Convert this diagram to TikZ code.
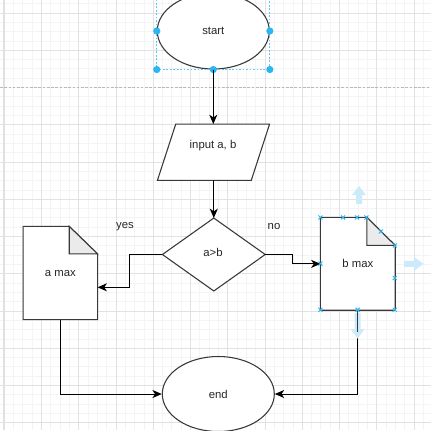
\documentclass[tikz,border=0pt]{standalone}
\usepackage{fontspec}
\setmainfont{Liberation Sans}
\usetikzlibrary{shapes.geometric,arrows.meta,calc}
\definecolor{selblue}{RGB}{41,182,242}
\definecolor{hoverblue}{RGB}{205,234,251}
\definecolor{gridminor}{RGB}{244,244,244}
\definecolor{gridmajor}{RGB}{226,226,226}
\definecolor{foldgray}{RGB}{235,235,235}
\begin{document}
\begin{tikzpicture}[x=0.75pt,y=-0.75pt,
  outline/.style={draw=black!78,line width=0.8pt,fill=white},
  conn/.style={draw=black,line width=0.75pt,-{Stealth[length=7pt,width=6pt,inset=2pt]}},
  lbl/.style={font=\fontsize{8.5pt}{10pt}\selectfont,text=black!85,inner sep=0pt},
  hover/.style={fill=hoverblue,draw=none},
  seldot/.style={fill=selblue,draw=none},
  selx/.style={draw=selblue,line width=0.7pt}]
\useasboundingbox (0,0) rectangle (431,430);
\begin{scope}
\clip (0,0) rectangle (431,430);
\fill[white] (0,0) rectangle (431,430);
% grid
\foreach \i in {-5,...,42}
  \draw[gridminor,line width=0.6pt] ({41.5+\i*9.3125},0) -- ({41.5+\i*9.3125},430);
\foreach \j in {-2,...,46}
  \draw[gridminor,line width=0.6pt] (0,{13+\j*9.3125}) -- (431,{13+\j*9.3125});
\foreach \i in {-1,...,10}
  \draw[gridmajor,line width=0.7pt] ({41.5+\i*37.25},0) -- ({41.5+\i*37.25},430);
\foreach \j in {0,1,3,4,5,6,7,8,9,10,11}
  \draw[gridmajor,line width=0.7pt] (0,{13+\j*37.25}) -- (431,{13+\j*37.25});
\draw[gray!55,line width=0.6pt,dash pattern=on 2pt off 1.2pt] (0,87.5) -- (431,87.5);
\draw[gray!25,line width=1.4pt] (3.5,0) -- (3.5,430);

% start
\node[ellipse,outline,inner sep=0pt,minimum width=84pt,minimum height=57pt,lbl] (start) at (213.3,31) {start};
\draw[selblue!75,line width=0.7pt,dash pattern=on 1.3pt off 1.3pt] (start.west |- start.north) rectangle (start.east |- start.south);
\foreach \p in {start.west,start.east,start.west |- start.south,start.south,start.east |- start.south}
  \fill[seldot] (\p) circle (3.6);

% input
\node[inner sep=0pt,minimum width=83.7pt,minimum height=41.8pt] (inp) at (213.5,152.2) {};
\draw[outline] ($(inp.north west)+(18.3,0)$) -- (inp.north east) -- ($(inp.south east)+(-18.3,0)$) -- (inp.south west) -- cycle;
\node[lbl] (inptext) at (213,145.7) {input a, b};

% decision
\node[inner sep=0pt,minimum width=76.7pt,minimum height=54.3pt] (dec) at (213.8,254.5) {};
\draw[outline] (dec.north) -- (dec.east) -- (dec.south) -- (dec.west) -- cycle;
\node[lbl] (dectext) at (213,252.7) {a>b};

% a max
\node[inner sep=0pt,minimum width=55.5pt,minimum height=69.5pt] (amax) at (60.3,273) {};
\draw[outline] (amax.north west) -- ($(amax.north east)+(-28.3,0)$) -- ($(amax.north east)+(0,27.5)$) -- (amax.south east) -- (amax.south west) -- cycle;
\draw[outline,fill=foldgray] ($(amax.north east)+(-28.3,0)$) -- ($(amax.north east)+(0,27.5)$) -- ($(amax.north east)+(-28.3,27.5)$) -- cycle;
\node[lbl] (amaxtext) at (amax.center) {a max};

% b max
\node[inner sep=0pt,minimum width=55.7pt,minimum height=69.2pt] (bmax) at (357.85,263.85) {};
\draw[outline] (bmax.north west) -- ($(bmax.north east)+(-28.3,0)$) -- ($(bmax.north east)+(0,28)$) -- (bmax.south east) -- (bmax.south west) -- cycle;
\draw[outline,fill=foldgray] ($(bmax.north east)+(-28.3,0)$) -- ($(bmax.north east)+(0,28)$) -- ($(bmax.north east)+(-28.3,28)$) -- cycle;
\node[lbl] (bmaxtext) at (bmax.center) {b max};

% end
\node[ellipse,outline,inner sep=0pt,minimum width=84pt,minimum height=56.25pt,lbl] (end) at (218.3,394) {end};

% labels
\node[lbl] (yes) at (125,226.7) {yes};
\node[lbl] (no) at (274,226.7) {no};

% connectors
\draw[conn] (start.south) -- (start.south |- inp.north);
\draw[conn] (inp.south -| dec.north) -- (dec.north);
\draw[conn] (dec.west) -- ++(-32.7,0) |- ($(amax.east)+(0,14.3)$);
\draw[conn] (dec.east) -- ++(27.7,0) |- (bmax.west);
\draw[conn] (amax.south) |- (end.west);
\draw[conn] (bmax.south) |- (end.east);

% hover arrows on b max
\fill[hover] (356,204) -- (356,195) -- (352,195) -- (359,186) -- (366,195) -- (362,195) -- (362,204) -- cycle;
\fill[hover] (404,260.85) -- (414,260.85) -- (414,256.85) -- (423.5,263.85) -- (414,270.85) -- (414,266.85) -- (404,266.85) -- cycle;
\fill[hover] (354.6,313) -- (354.6,329) -- (350.6,329) -- (357.6,338.5) -- (364.6,329) -- (360.6,329) -- (360.6,313) -- cycle;
\draw[black!78,line width=0.8pt] (bmax.south) -- ++(0,22);

% connection markers on b max
\foreach \dx/\dy in {0/0,22.6/0,36.6/0,46/0,60.3/14,74.3/28,74.3/60.6,74.3/92.3,37.15/92.3,0/92.3,0/46.15}
  \draw[selx] ($(bmax.north west)+(\dx,\dy)+(-2,-2)$) -- ++(4,4) ($(bmax.north west)+(\dx,\dy)+(-2,2)$) -- ++(4,-4);
\end{scope}
\end{tikzpicture}
\end{document}
